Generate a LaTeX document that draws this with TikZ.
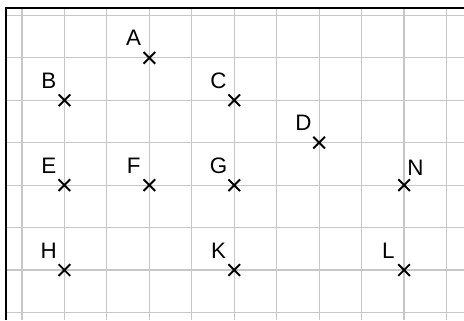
\documentclass[tikz,border=0pt]{standalone}
\usepackage{fontspec}
\setmainfont{Liberation Sans}
\usetikzlibrary{positioning,shapes.misc}

\begin{document}
\begin{tikzpicture}[
  font=\fontsize{15}{18}\selectfont,
  pt/.style={draw, cross out, line width=1.3pt, minimum size=6.5pt, inner sep=0pt},
  lbl/.style={inner sep=0pt, on grid},
  gridline/.style={draw=black!22, line width=0.8pt},
  frame/.style={draw=black, line width=1.4pt},
  node distance=4.6mm and 3.7mm
]
\useasboundingbox (-0.518,-0.177) rectangle (10.412,7.362);
\draw[gridline] (-0.377,-0.177) grid (10.412,7.173);
\draw[frame] (-0.377,-0.177) -- (-0.377,7.173) -- (10.412,7.173);
\node[pt] (A) at (3,6) {};
\node[pt] (B) at (1,5) {};
\node[pt] (C) at (5,5) {};
\node[pt] (D) at (7,4) {};
\node[pt] (E) at (1,3) {};
\node[pt] (F) at (3,3) {};
\node[pt] (G) at (5,3) {};
\node[pt] (N) at (9,3) {};
\node[pt] (H) at (1,1) {};
\node[pt] (K) at (5,1) {};
\node[pt] (L) at (9,1) {};
\node[lbl, above left=of A] (A-lbl) {A};
\node[lbl, above left=of B] (B-lbl) {B};
\node[lbl, above left=of C] (C-lbl) {C};
\node[lbl, above left=of D] (D-lbl) {D};
\node[lbl, above left=of E] (E-lbl) {E};
\node[lbl, above left=of F] (F-lbl) {F};
\node[lbl, above left=of G] (G-lbl) {G};
\node[lbl, above right=4mm and 2.7mm of N] (N-lbl) {N};
\node[lbl, above left=of H] (H-lbl) {H};
\node[lbl, above left=of K] (K-lbl) {K};
\node[lbl, above left=of L] (L-lbl) {L};
\end{tikzpicture}
\end{document}
